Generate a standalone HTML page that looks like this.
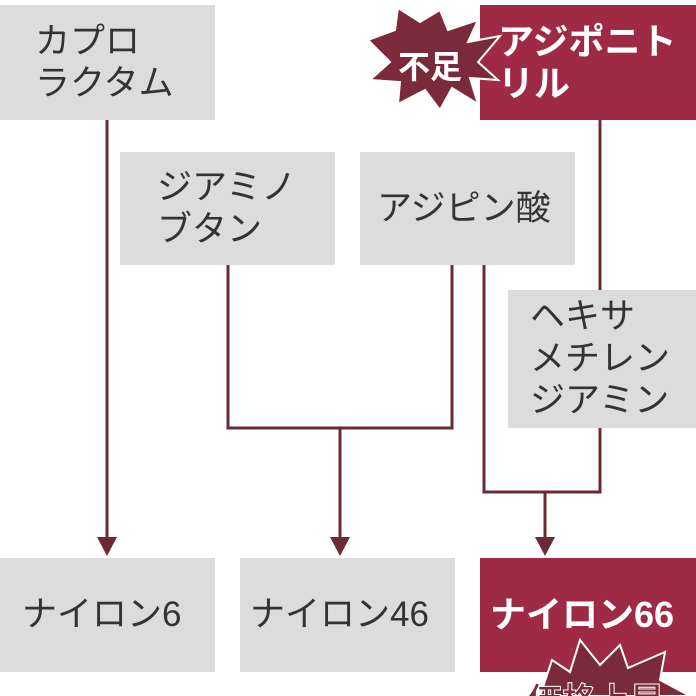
<!DOCTYPE html>
<html><head><meta charset="utf-8"><style>
body{margin:0;width:696px;height:696px;background:#fff;overflow:hidden;position:relative;font-family:"Liberation Sans","Noto Sans CJK JP",sans-serif}
.b{position:absolute;background:#dcdcdc;color:#333;font-size:35px;line-height:42px;box-sizing:border-box;display:flex;align-items:center}
.r{background:#9e2a44;color:#fff;font-weight:bold}
svg{position:absolute;left:0;top:0}
</style></head><body>
<svg width="696" height="696">
<g stroke="#6b2a35" stroke-width="3" fill="none">
<path d="M107 120V540"/><path d="M228 265V428H452V265"/><path d="M340 428V540"/>
<path d="M484 265V492H600V120"/><path d="M545 492V540"/>
</g>
<g fill="#6b2a35"><path d="M97 537L117 537L107 556Z"/><path d="M330 537L350 537L340 556Z"/><path d="M535 537L555 537L545 556Z"/></g>
</svg>
<div class="b" style="left:0;top:5px;width:215px;height:115px;padding-left:35px">カプロ<br>ラクタム</div>
<div class="b r" style="left:480px;top:5px;width:216px;height:115px;padding-left:18px;font-size:36px">アジポニト<br>リル</div>
<div class="b" style="left:120px;top:152px;width:215px;height:113px;padding-left:37px">ジアミノ<br>ブタン</div>
<div class="b" style="left:360px;top:152px;width:215px;height:113px;padding-left:17px">アジピン酸</div>
<div class="b" style="left:508px;top:290px;width:188px;height:138px;padding-left:22px">ヘキサ<br>メチレン<br>ジアミン</div>
<div class="b" style="left:0;top:558px;width:215px;height:114px;padding-left:22px">ナイロン6</div>
<div class="b" style="left:240px;top:558px;width:215px;height:114px;padding-left:10px">ナイロン46</div>
<div class="b r" style="left:480px;top:558px;width:216px;height:114px;padding-left:10px;font-size:36px">ナイロン66</div>
<svg width="696" height="696" style="pointer-events:none">
<path d="M368 40L395 30L398 8L420 22L440 10L448 30L478 20L468 42L500 36L478 62L498 80L470 78L478 104L452 88L440 110L425 90L398 104L400 82L370 80L390 62Z" fill="#7a2a38" stroke="#fff" stroke-width="2"/>
<text x="398" y="78" font-size="32" font-weight="bold" fill="#fff" font-family="Liberation Sans,Noto Sans CJK JP,sans-serif">不足</text>
<path d="M540 696L552 660L570 672L580 640L600 665L620 645L628 668L665 652L660 680L690 696Z" fill="#7a2a38" stroke="#fff" stroke-width="2"/>
<text x="528" y="712" font-size="34" font-weight="bold" fill="#7a2a38" stroke="#fff" stroke-width="1" font-family="Liberation Sans,Noto Sans CJK JP,sans-serif">価格上昇</text>
</svg>
</body></html>
